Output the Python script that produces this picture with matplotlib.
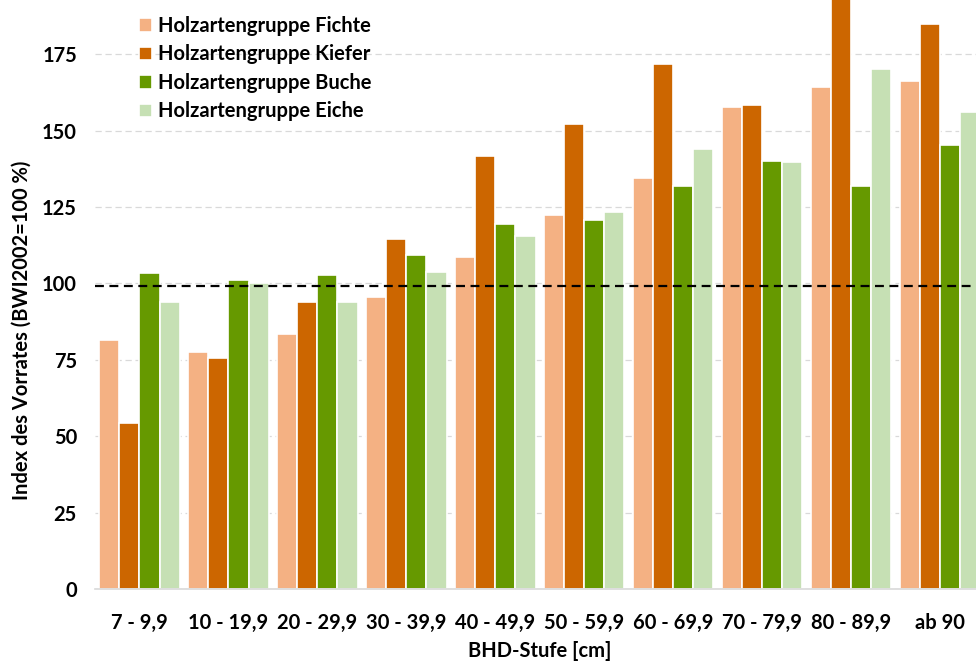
import matplotlib.pyplot as plt
import numpy as np

plt.rcParams['font.family'] = ['Lato', 'DejaVu Sans']

stufen = ["7 - 9,9", "10 - 19,9", "20 - 29,9", "30 - 39,9", "40 - 49,9",
          "50 - 59,9", "60 - 69,9", "70 - 79,9", "80 - 89,9", "ab 90"]

fichte = [81.5, 77.7, 83.5, 95.5, 108.5, 122.2, 134.5, 157.8, 164.3, 166.2]
kiefer = [54.4, 75.6, 93.8, 114.5, 141.5, 152.0, 171.7, 158.3, 198.0, 184.9]
buche = [103.3, 101.1, 102.6, 109.3, 119.4, 120.7, 131.8, 140.0, 131.8, 145.3]
eiche = [93.8, 100.0, 94.0, 103.8, 115.5, 123.4, 143.8, 139.8, 170.2, 156.1]

referenz = 99  # gestrichelte Linie

serien = [
    ("Holzartengruppe Fichte", fichte, "#F4B183"),
    ("Holzartengruppe Kiefer", kiefer, "#CC6600"),
    ("Holzartengruppe Buche", buche, "#669900"),
    ("Holzartengruppe Eiche", eiche, "#C6E0B4"),
]

fs = 14.5

fig = plt.figure(figsize=(9.76, 6.61), dpi=100)
ax = fig.add_axes([95 / 976, 72 / 661, 1 - 95 / 976, 589 / 661])

x = np.arange(len(stufen))
w = 0.225
for i, (name, vals, col) in enumerate(serien):
    ax.bar(x + (i - 1.5) * w, vals, width=w, color=col, edgecolor="white",
           linewidth=1.2, label=name, zorder=2)

ax.axhline(referenz, color="black", linestyle=(0, (4, 2.5)), linewidth=1.6, zorder=3)

ax.set_xlim(-0.5, 9.4)
ax.set_ylim(0, 192.7)
ax.set_yticks(np.arange(0, 176, 25))
ax.set_xticks(x)
ax.set_xticklabels(stufen)

ax.grid(axis="y", color="#d9d9d9", linestyle=(0, (5, 3)), linewidth=0.9, zorder=0)
ax.set_axisbelow(True)
for s in ["top", "right", "left"]:
    ax.spines[s].set_visible(False)
ax.spines["bottom"].set_color("#d9d9d9")
ax.spines["bottom"].set_linewidth(1.2)

ax.tick_params(axis="both", length=0, labelsize=fs)
ax.tick_params(axis="y", pad=13)
ax.tick_params(axis="x", pad=17)
for lab in ax.get_xticklabels() + ax.get_yticklabels():
    lab.set_fontweight("bold")

fig.text(22 / 976, 1 - 330 / 661, "Index des Vorrates (BWI2002=100 %)",
         rotation=90, ha="center", va="center", fontsize=fs, fontweight="bold")
fig.text(540 / 976, 1 - 651 / 661, "BHD-Stufe [cm]",
         ha="center", va="center", fontsize=fs, fontweight="bold")

leg = ax.legend(loc="upper left", bbox_to_anchor=(139 / 976, 1 - 16 / 661),
                bbox_transform=fig.transFigure, frameon=False,
                prop={"size": fs, "weight": "bold"}, handlelength=0.65,
                handleheight=0.65, handletextpad=0.3, labelspacing=0.42,
                borderaxespad=0, borderpad=0)

plt.savefig("out.png", dpi=100)
